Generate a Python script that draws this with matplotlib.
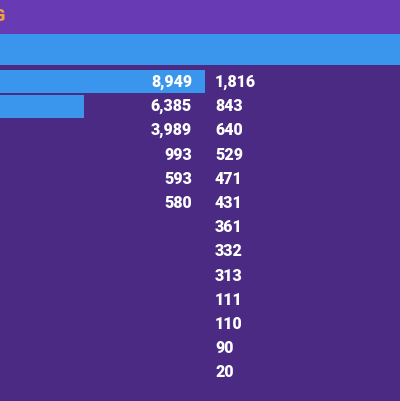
import numpy as np
import matplotlib
matplotlib.use("Agg")
from matplotlib import pyplot as plt

# values
total = 21489
bar_values = [8949, 6385, 3989, 993, 593, 580]
side_values = [1816, 843, 640, 529, 471, 431, 361, 332, 313, 111, 110, 90, 20]

bg = '#4b2a83'
band = '#683bb5'
blue = '#3996ec'
orange = '#f2a33a'

plt.rcParams['font.family'] = ['Roboto', 'DejaVu Sans']

fig = plt.figure(figsize=(4, 4.01), dpi=100, facecolor=bg)
ax = fig.add_axes([0, 0, 1, 1])
ax.set_facecolor(bg)

# pixel -> data mapping
pitch = 24.2
row0 = 82
ax.set_ylim((401 - row0) / pitch, -row0 / pitch)
ax.set_xlim(4605, 13081)

# title band and header bar
ax.axhspan(-row0 / pitch, (34 - row0) / pitch, color=band, lw=0)
ax.barh((49.5 - row0) / pitch, total, height=31 / pitch, color=blue, lw=0)

y = np.arange(len(bar_values))
ax.barh(y, bar_values, height=23 / pitch, color=blue, lw=0)

tr = ax.get_yaxis_transform()
for i, v in enumerate(bar_values):
    ax.text(192 / 400, i, f'{v:,}', transform=tr, ha='right', va='center',
            color='white', fontsize=11.5, fontweight='black')
for i, v in enumerate(side_values):
    ax.text(215 / 400, i, f'{v:,}', transform=tr, ha='left', va='center',
            color='white', fontsize=11.5, fontweight='black')

fig.text(4.5 / 400, 1 - 16 / 401, 'G', ha='right', va='center', color=orange,
         fontsize=12, fontweight='black')

ax.axis('off')
fig.savefig('out.png', dpi=100, facecolor=bg)
